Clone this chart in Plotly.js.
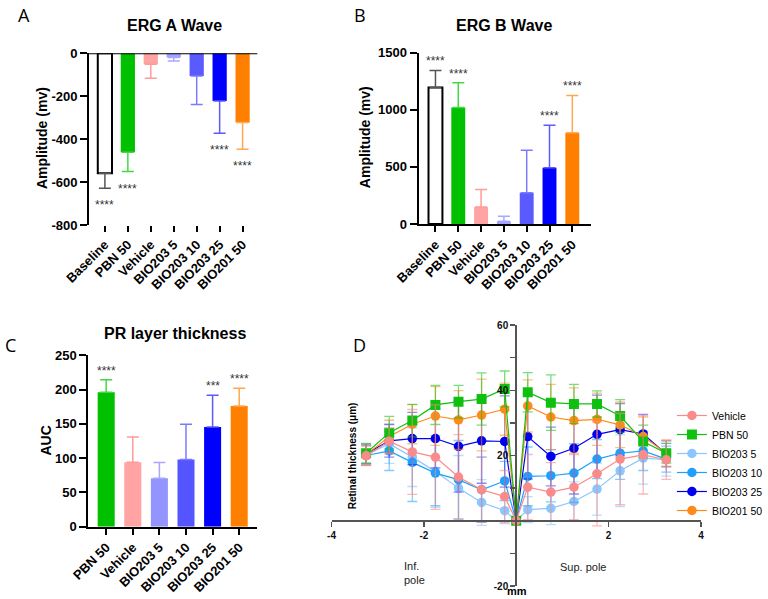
<!DOCTYPE html>
<html>
<head>
<meta charset="utf-8">
<script src="https://cdn.plot.ly/plotly-3.0.1.min.js"></script>
<style>html,body{margin:0;padding:0;background:#fff;}#chart{width:768px;height:599px;}</style>
</head>
<body>
<div id="chart"></div>
<script>
// ---------------- DATA ----------------
const catsAB = ["Baseline", "PBN 50", "Vehicle", "BIO203 5", "BIO203 10", "BIO203 25", "BIO201 50"];
const ergA = [-559, -461, -51, -19, -106, -222, -323];
const ergA_sd = [70, 90, 65, 17, 132, 151, 124];
const ergA_sig = ["****", "****", "", "", "", "****", "****"];

const ergB = [1196, 1021, 149, 23, 274, 493, 800];
const ergB_sd = [149, 216, 154, 44, 371, 371, 326];
const ergB_sig = ["****", "****", "", "", "", "****", "****"];

const catsC = ["PBN 50", "Vehicle", "BIO203 5", "BIO203 10", "BIO203 25", "BIO201 50"];
const prAUC = [196, 94, 70.5, 98, 145.4, 176];
const prAUC_sd = [18.5, 37, 23, 51.5, 46.2, 25.8];
const prAUC_sig = ["****", "", "", "", "***", "****"];

const posD = [-3.25, -2.75, -2.25, -1.75, -1.25, -0.75, -0.25, 0, 0.25, 0.75, 1.25, 1.75, 2.25, 2.75, 3.25];
const seriesD = ["Vehicle", "PBN 50", "BIO203 5", "BIO203 10", "BIO203 25", "BIO201 50"];
const vehicleD   = [19.9, 24.4, 21.1, 19.5, 13.4, 9.5, 7.4, 0, 10.3, 8.8, 10.3, 14.4, 18.9, 20.2, 18.7];
const vehicleSD  = [3, 4, 13, 16, 13, 10, 8, 0, 10, 9, 10, 16, 14, 12, 6];
const pbnD       = [20.7, 27.0, 30.7, 35.5, 36.5, 37.3, 40.4, 0, 39.4, 36.2, 35.8, 35.8, 32.1, 24.3, 20.7];
const pbnSD      = [3, 5, 5, 6, 5, 8, 5.5, 0, 6, 8.5, 6, 4, 5, 5, 3];
const bio5D      = [20.2, 23.6, 19.5, 15.1, 10.0, 5.6, 3.1, 0, 3.4, 3.8, 5.9, 9.7, 15.3, 19.2, 18.7];
const bio5SD     = [3, 6, 9, 11, 10, 7, 4, 0, 4, 5, 6, 8, 11, 8, 5];
const bio10D     = [20.0, 21.4, 17.9, 14.6, 12.6, 9.5, 12.2, 0, 13.6, 13.8, 14.6, 18.9, 20.7, 21.4, 18.9];
const bio10SD    = [3, 6, 12, 10, 12, 10, 6, 0, 9, 8, 9, 6, 8, 6, 4];
const bio25D     = [20.5, 24.5, 25.2, 25.2, 22.8, 24.5, 24.3, 0, 25.8, 19.7, 22.2, 26.5, 27.9, 26.6, 20.5];
const bio25SD    = [3, 5, 8, 9, 14, 13, 14, 0, 13, 9, 14, 12, 8, 6, 4];
const bio201D    = [20.2, 25.8, 29.6, 32.1, 30.9, 32.4, 34.2, 0, 35.2, 31.8, 30.7, 31.1, 29.4, 25.8, 20.7];
const bio201SD   = [3, 5, 6, 9, 9, 11, 8, 0, 8, 10, 10, 8, 7, 6, 4];

const ticksA = [-800, -600, -400, -200, 0];
const ticksB = [0, 500, 1000, 1500];
const ticksC = [0, 50, 100, 150, 200, 250];
const ticksDx = [-4, -2, 0, 2, 4];
const ticksDy = [-20, -10, 0, 10, 20, 30, 40, 50, 60];
const labelsDx = ["-4", "-2", "", "2", "4"];
const labelsDy = ["-20", "", "", "", "20", "", "40", "", "60"];

// ---------------- STYLES ----------------
const W = 768, H = 599;
const px = x => x / W;
const py = y => 1 - y / H;
const FONT = "Arial, 'Liberation Sans', sans-serif";

const barFill = {
  "Baseline": "#ffffff", "PBN 50": "#00c000", "Vehicle": "#ffa3a3",
  "BIO203 5": "#a3a3ff", "BIO203 10": "#5a5aff", "BIO203 25": "#0000ff", "BIO201 50": "#ff8000"
};
const barFillC = Object.assign({}, barFill, {"BIO203 5": "#9494ff", "BIO203 10": "#5555ff"});
const errCol = {
  "Baseline": "#555555", "PBN 50": "#45d845", "Vehicle": "#ff9a9a",
  "BIO203 5": "#a8a8ff", "BIO203 10": "#7a7aff", "BIO203 25": "#5a5aff", "BIO201 50": "#ffa850"
};
const lineColD = {
  "Vehicle": "#f98b8b", "PBN 50": "#10c010", "BIO203 5": "#8cc6ff",
  "BIO203 10": "#1ea0ff", "BIO203 25": "#0000ee", "BIO201 50": "#ff8a1a"
};
const errColD = {
  "Vehicle": "rgba(249,139,139,0.6)", "PBN 50": "rgba(16,192,16,0.55)", "BIO203 5": "rgba(140,198,255,0.6)",
  "BIO203 10": "rgba(30,160,255,0.55)", "BIO203 25": "rgba(0,0,238,0.45)", "BIO201 50": "rgba(255,138,26,0.55)"
};

const traces = [];
const annotations = [];

function barPanel(cats, vals, sds, sig, xa, ya, fills, width, negative, starShift) {
  cats.forEach((c, i) => {
    traces.push({
      type: "bar", x: [c], y: [vals[i]], xaxis: xa, yaxis: ya, width: width,
      marker: {color: fills[c], line: {color: c === "Baseline" ? "#000" : fills[c], width: c === "Baseline" ? 2 : 0}},
      error_y: {type: "data", symmetric: false,
        array: [negative ? 0 : sds[i]], arrayminus: [negative ? sds[i] : 0],
        color: errCol[c], thickness: 1.5, width: 6},
      showlegend: false, hoverinfo: "skip"
    });
    if (sig[i]) {
      annotations.push({
        x: c, y: negative ? vals[i] - sds[i] : vals[i] + sds[i],
        xref: xa, yref: ya, text: sig[i], showarrow: false,
        yshift: starShift, font: {family: FONT, size: 12, color: "#333"}
      });
    }
  });
}

barPanel(catsAB, ergA, ergA_sd, ergA_sig, "x", "y", barFill, 0.62, true, -17);
barPanel(catsAB, ergB, ergB_sd, ergB_sig, "x2", "y2", barFill, 0.61, false, 9);
barPanel(catsC, prAUC, prAUC_sd, prAUC_sig, "x3", "y3", barFillC, 0.64, false, 9);

const dVals = {"Vehicle": [vehicleD, vehicleSD], "PBN 50": [pbnD, pbnSD], "BIO203 5": [bio5D, bio5SD],
  "BIO203 10": [bio10D, bio10SD], "BIO203 25": [bio25D, bio25SD], "BIO201 50": [bio201D, bio201SD]};
const drawOrder = ["BIO203 5", "BIO203 10", "BIO203 25", "BIO201 50", "PBN 50", "Vehicle"];
drawOrder.forEach(name => {
  traces.push({
    type: "scatter", mode: "lines+markers", name: name,
    x: posD, y: dVals[name][0], xaxis: "x4", yaxis: "y4",
    line: {color: lineColD[name], width: 1.2},
    marker: {color: lineColD[name], size: name === "PBN 50" ? 10 : 9.5, symbol: name === "PBN 50" ? "square" : "circle"},
    error_y: {type: "data", array: dVals[name][1], color: errColD[name], thickness: 1.3, width: 5},
    legendrank: seriesD.indexOf(name) + 1,
    hoverinfo: "skip"
  });
});

// ---------------- LAYOUT ----------------
const boldTick = {family: FONT, size: 13, color: "#000", weight: "bold"};
const catAxis = (dom, rng, anchor, line) => ({
  domain: dom, range: rng, anchor: anchor, type: "category",
  showline: line, linecolor: "#000", linewidth: 2,
  ticks: "outside", ticklen: 6, tickwidth: 2, tickcolor: "#000",
  tickangle: -45, tickfont: boldTick, showgrid: false, zeroline: false, fixedrange: true
});
const valAxis = (dom, rng, anchor, tv) => ({
  domain: dom, range: rng, anchor: anchor,
  showline: true, linecolor: "#000", linewidth: 2,
  ticks: "outside", ticklen: 7, tickwidth: 2, tickcolor: "#000",
  tickvals: tv, ticktext: tv.map(v => String(v)),
  tickfont: boldTick, showgrid: false, zeroline: false, fixedrange: true
});

const domDx = [px(335), px(708.3)];
const domDy = [py(586), py(325)];
const rngDx = [-4, 4], rngDy = [-20, 60];
const xZeroPaper = domDx[0] + (0 - rngDx[0]) / (rngDx[1] - rngDx[0]) * (domDx[1] - domDx[0]);
const yZeroPaper = domDy[0] + (0 - rngDy[0]) / (rngDy[1] - rngDy[0]) * (domDy[1] - domDy[0]);
const dTick = {family: FONT, size: 10, color: "#111", weight: "bold"};

function ann(text, x, y, size, opts) {
  return Object.assign({
    text: text, x: px(x), y: py(y), xref: "paper", yref: "paper", showarrow: false,
    xanchor: "center", yanchor: "middle",
    font: {family: FONT, size: size, color: "#000"}
  }, opts || {});
}
const boldF = s => ({family: FONT, size: s, color: "#000", weight: "bold"});
const letterF = {family: "'Open Sans', 'Noto Sans', sans-serif", size: 18, color: "#000"};

annotations.push(
  ann("A", 24, 15, 18, {font: letterF}),
  ann("B", 364, 15, 18, {font: letterF}),
  ann("C", 11, 345, 18, {font: letterF}),
  ann("D", 363, 345, 18, {font: letterF}),
  ann("ERG A Wave", 176, 25, 16, {font: boldF(16)}),
  ann("ERG B Wave", 509, 25, 16, {font: boldF(16)}),
  ann("PR layer thickness", 177, 333, 16, {font: boldF(16)}),
  ann("Amplitude (mv)", 42.5, 138, 14, {font: boldF(14), textangle: -90}),
  ann("Amplitude (mv)", 369, 137, 14, {font: boldF(14), textangle: -90}),
  ann("AUC", 46, 441, 14, {font: boldF(14), textangle: -90}),
  ann("Retinal thickness (μm)", 356, 456, 10, {font: boldF(10), textangle: -90}),
  ann("mm", 522, 591, 11, {font: boldF(11)}),
  ann("Inf.<br>pole", 406, 573, 11, {xanchor: "left", align: "left", font: {family: FONT, size: 11, color: "#222"}}),
  ann("Sup. pole", 564, 567, 11, {xanchor: "left", font: {family: FONT, size: 11, color: "#222"}})
);

const layout = {
  width: W, height: H,
  margin: {l: 0, r: 0, t: 0, b: 0},
  paper_bgcolor: "#fff", plot_bgcolor: "rgba(0,0,0,0)",
  barmode: "overlay",
  font: {family: FONT},
  showlegend: true,
  legend: {x: px(679), y: py(401), xanchor: "left", yanchor: "top",
    font: {family: FONT, size: 10.5, color: "#000"}, bgcolor: "rgba(0,0,0,0)", itemwidth: 30,
    tracegroupgap: 0},
  xaxis: catAxis([px(90), px(260)], [-0.69, 6.64], "y", false),
  yaxis: valAxis([py(225), py(53.3)], [-800, 0], "x", ticksA),
  xaxis2: catAxis([px(423), px(597)], [-0.74, 6.81], "y2", true),
  yaxis2: valAxis([py(224), py(52.7)], [0, 1500], "x2", ticksB),
  xaxis3: catAxis([px(89.3), px(260)], [-0.67, 5.68], "y3", true),
  yaxis3: valAxis([py(526.7), py(355.3)], [0, 250], "x3", ticksC),
  xaxis4: {domain: domDx, range: rngDx, anchor: "free", position: yZeroPaper,
    showline: true, linecolor: "#555", linewidth: 2, ticks: "outside", ticklen: 5, tickwidth: 1.5, tickcolor: "#555",
    tickvals: ticksDx, ticktext: labelsDx, tickfont: dTick, showgrid: false, zeroline: false, fixedrange: true},
  yaxis4: {domain: domDy, range: rngDy, anchor: "free", position: xZeroPaper,
    showline: true, linecolor: "#555", linewidth: 2, ticks: "outside", ticklen: 5, tickwidth: 1.5, tickcolor: "#555",
    tickvals: ticksDy, ticktext: labelsDy, tickfont: dTick, showgrid: false, zeroline: false, fixedrange: true},
  shapes: [
    {type: "line", xref: "x domain", yref: "y", x0: 0, x1: 1, y0: 0, y1: 0, line: {color: "#000", width: 2}}
  ],
  annotations: annotations
};

Plotly.newPlot("chart", traces, layout, {staticPlot: true, displayModeBar: false});
</script>
</body>
</html>
